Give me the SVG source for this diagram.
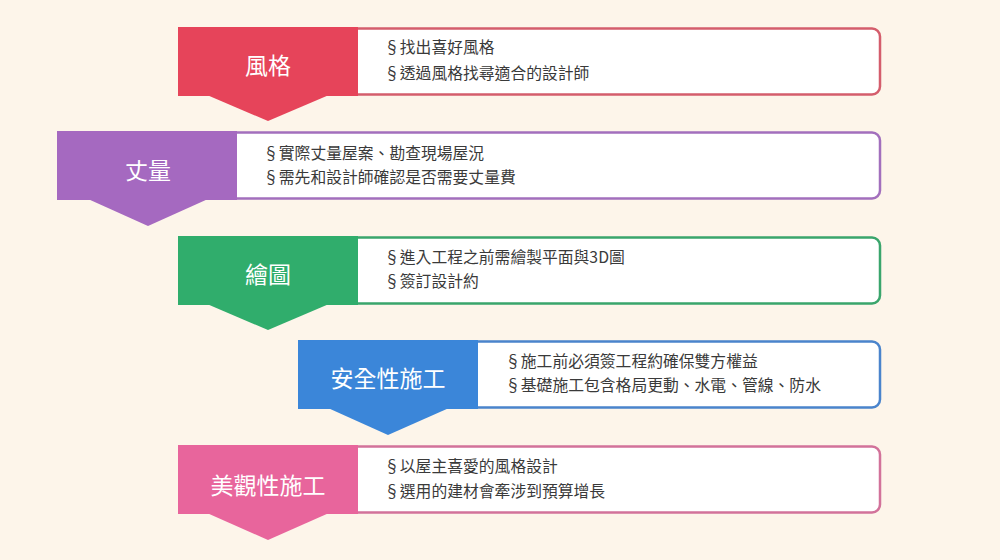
<svg xmlns="http://www.w3.org/2000/svg" width="1000" height="560" viewBox="0 0 1000 560">
<style>
.lbl{font-family:"Noto Sans CJK TC","Noto Sans CJK SC",sans-serif;font-size:23px;fill:#ffffff;text-anchor:middle;font-weight:400}
.item{font-family:"Noto Sans CJK TC","Noto Sans CJK SC",sans-serif;font-size:15.8px;fill:#3a3a3a}
.box{fill:#ffffff;stroke-width:2.5}
</style>
<rect width="1000" height="560" fill="#fdf5ea"/>
<g id="node-style">
<rect class="box" x="340" y="28.5" width="540" height="66" rx="8" stroke="#d45d6c"/>
<polygon points="207,95 329,95 268,121" fill="#e6445a"/>
<rect x="178" y="27" width="180" height="69" fill="#e6445a"/>
<text class="lbl" x="268" y="74">風格</text>
<text class="item" x="384" y="53">§找出喜好風格</text>
<text class="item" x="384" y="79">§透過風格找尋適合的設計師</text>
</g>
<g id="node-measure">
<rect class="box" x="220" y="132.5" width="660" height="66" rx="8" stroke="#a26fbd"/>
<polygon points="88,199 208,199 148,226" fill="#a569c0"/>
<rect x="57" y="131" width="180" height="69" fill="#a569c0"/>
<text class="lbl" x="148" y="179">丈量</text>
<text class="item" x="263" y="159">§實際丈量屋案、勘查現場屋況</text>
<text class="item" x="263" y="183">§需先和設計師確認是否需要丈量費</text>
</g>
<g id="node-drawing">
<rect class="box" x="340" y="237.5" width="540" height="66" rx="8" stroke="#3aa56c"/>
<polygon points="207,304 329,304 268,330" fill="#30ad6c"/>
<rect x="178" y="236" width="180" height="69" fill="#30ad6c"/>
<text class="lbl" x="268" y="283">繪圖</text>
<text class="item" x="384" y="263">§進入工程之前需繪製平面與3D圖</text>
<text class="item" x="384" y="287">§簽訂設計約</text>
</g>
<g id="node-safety">
<rect class="box" x="460" y="341.5" width="420" height="66" rx="8" stroke="#4a84cc"/>
<polygon points="328,408 449,408 388,435" fill="#3b86d9"/>
<rect x="298" y="340" width="180" height="69" fill="#3b86d9"/>
<text class="lbl" x="388" y="387">安全性施工</text>
<text class="item" x="505" y="367">§施工前必須簽工程約確保雙方權益</text>
<text class="item" x="505" y="391">§基礎施工包含格局更動、水電、管線、防水</text>
</g>
<g id="node-aesthetic">
<rect class="box" x="340" y="446.5" width="540" height="66" rx="8" stroke="#d2729a"/>
<polygon points="207,513 329,513 268,540" fill="#e8659c"/>
<rect x="178" y="445" width="180" height="69" fill="#e8659c"/>
<text class="lbl" x="268" y="494">美觀性施工</text>
<text class="item" x="384" y="472">§以屋主喜愛的風格設計</text>
<text class="item" x="384" y="497">§選用的建材會牽涉到預算增長</text>
</g>
<g id="connectors"></g>
</svg>
